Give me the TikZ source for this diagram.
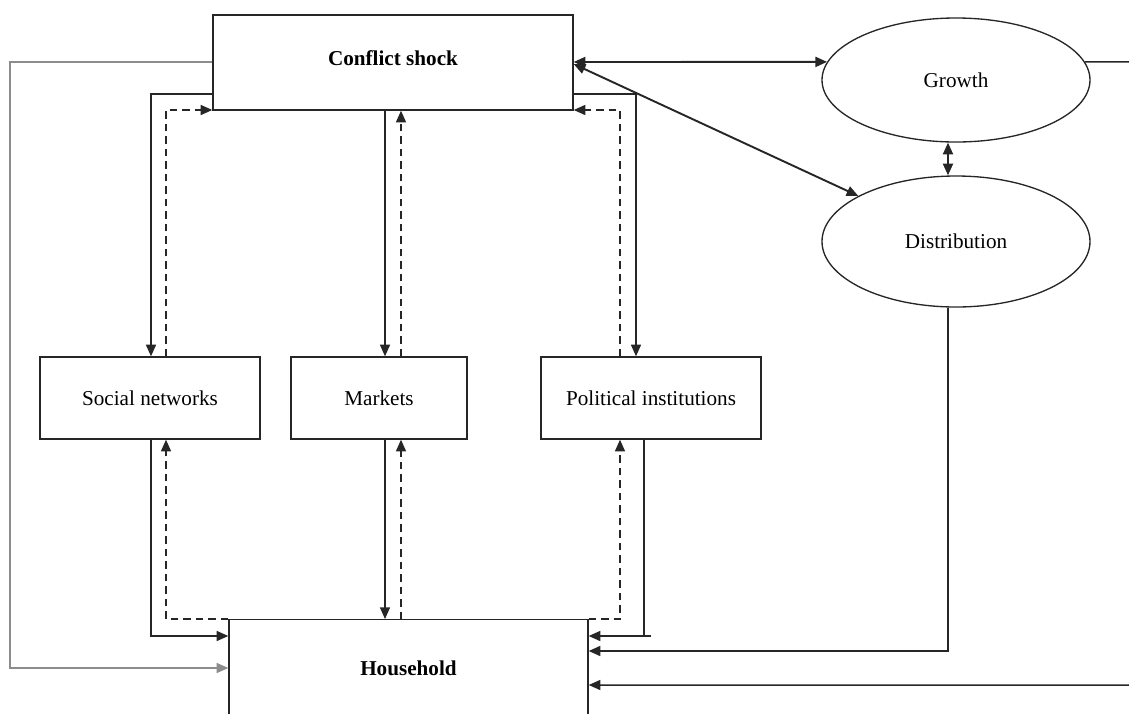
\documentclass[tikz,border=0pt]{standalone}
\usepackage{fontspec}
\setmainfont{Liberation Serif}
\usetikzlibrary{arrows.meta,shapes.geometric}
\begin{document}
\begin{tikzpicture}[x=0.6pt,y=-0.6pt,
  font=\fontsize{12.7}{15}\selectfont,
  box/.style={draw=black!85, line width=0.8pt, rectangle, inner sep=0pt},
  ell/.style={draw=black!85, line width=0.8pt, ellipse, inner sep=0pt, minimum width=160.8pt},
  sol/.style={draw=black!85, line width=0.9pt},
  thk/.style={draw=black!85, line width=1.15pt},
  dsh/.style={draw=black!85, line width=0.9pt, dash pattern=on 4.5pt off 3pt},
  gry/.style={draw=black!45, line width=0.7pt},
  tip/.style={-{Triangle[length=7pt,width=6pt]}},
  tips/.style={{Triangle[length=7pt,width=6pt]}-{Triangle[length=7pt,width=6pt]}}]
\useasboundingbox (0,0) rectangle (1129,713);
\clip (0,0) rectangle (1129,713);

% nodes
\node[box, minimum width=216pt, minimum height=57pt] (cs) at (393,62.5) {};
\node[font=\fontsize{12.7}{15}\selectfont\bfseries] (cslabel) at (393,58) {Conflict shock};
\node[box, minimum width=132pt, minimum height=49.2pt] (sn) at (150,398) {Social networks};
\node[box, minimum width=105.6pt, minimum height=49.2pt] (mk) at (379,398) {Markets};
\node[box, minimum width=132pt, minimum height=49.2pt] (pi) at (651,398) {Political institutions};
\node[box, minimum width=215.4pt, minimum height=100pt, anchor=north] (hh) at (408.5,619) {};
\node[font=\fontsize{12.7}{15}\selectfont\bfseries] (hhlabel) at (408.5,668) {Household};
\node[ell, minimum height=74.4pt] (gr) at (956,80) {Growth};
\node[ell, minimum height=78.6pt] (di) at (956,241.5) {Distribution};

% helper coordinates
\coordinate (a1) at (151,94);
\coordinate (a2) at (166,110);
\coordinate (m1) at (385,250);
\coordinate (m2) at (401,250);
\coordinate (p1) at (636,94);
\coordinate (p2) at (620,110);
\coordinate (g1) at (600,62);
\coordinate (d0) at (600,64);
\coordinate (gx) at (10,300);
\coordinate (y668) at (300,668);
\coordinate (b1) at (151,636);
\coordinate (b2) at (166,619);
\coordinate (q1) at (644,636);
\coordinate (q2) at (651,636);
\coordinate (r2) at (620,619);
\coordinate (x948) at (948,200);
\coordinate (dd) at (948,651);
\coordinate (ge) at (1140,62);
\coordinate (gf) at (1140,685);

% conflict -> left side
\draw[gry,tip] (cs.west |- g1) -| (gx) |- (hh.west |- y668);
\draw[sol,tip] (cs.west |- a1) -- (a1) -- (a1 |- sn.north);
\draw[dsh,tip] (a2 |- sn.north) -- (a2) -- (a2 -| cs.west);

% markets
\draw[sol,tip] (cs.south -| m1) -- (m1 |- mk.north);
\draw[dsh,tip] (mk.north -| m2) -- (cs.south -| m2);

% political
\draw[sol,tip] (cs.east |- p1) -- (p1) -- (p1 |- pi.north);
\draw[dsh,tip] (p2 |- pi.north) -- (p2) -- (p2 -| cs.east);

% growth and distribution
\draw[thk,tips] (cs.east |- g1) -- (gr.172);
\draw[thk,tips] (cs.east |- d0) -- (di.155);
\draw[thk,tips] (gr.south -| x948) -- (di.north -| x948);
\draw[sol,tip] (gr.8) -- (ge) -- (gf) -- (hh.east |- gf);
\draw[sol,tip] (di.south -| x948) -- (dd) -- (hh.east |- dd);

% lower connections
\draw[sol,tip] (sn.south -| b1) -- (b1) -- (hh.west |- b1);
\draw[dsh,tip] (hh.north west) -- (b2) -- (b2 |- sn.south);
\draw[sol,tip] (mk.south -| m1) -- (m1 |- hh.north);
\draw[dsh,tip] (hh.north -| m2) -- (m2 |- mk.south);
\draw[sol] (pi.south -| q1) -- (q1);
\draw[sol,tip] (q2) -- (q2 -| hh.east);
\draw[dsh,tip] (hh.north east) -- (r2) -- (r2 |- pi.south);
\end{tikzpicture}
\end{document}
